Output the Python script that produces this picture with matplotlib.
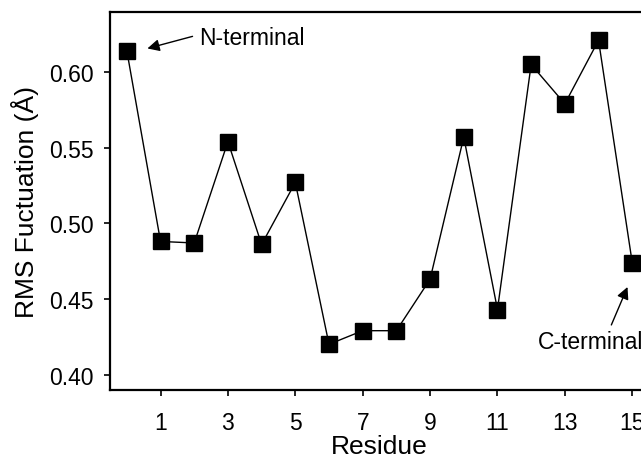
import matplotlib
matplotlib.use("Agg")
import matplotlib.pyplot as plt

plt.rcParams['font.family'] = ['Liberation Sans', 'DejaVu Sans']

# datos
residuo = list(range(16))
rmsf = [0.614, 0.488, 0.487, 0.554, 0.486, 0.527, 0.420, 0.429,
        0.429, 0.463, 0.557, 0.443, 0.605, 0.579, 0.621, 0.474]
xticks = [1, 3, 5, 7, 9, 11, 13, 15]
yticks = [0.40, 0.45, 0.50, 0.55, 0.60]

fig = plt.figure(figsize=(6.41, 4.60), dpi=100)
ax = fig.add_axes([0.1716, 0.1507, 0.841, 0.822])

ax.plot(residuo, rmsf, color='black', lw=1.0, marker='s', ms=12,
        mfc='black', mec='black')

ax.set_xlim(-0.5, 15.5)
ax.set_ylim(0.39, 0.64)
ax.set_xticks(xticks)
ax.set_yticks(yticks)
ax.set_yticklabels([f"{v:.2f}" for v in yticks])
ax.tick_params(axis='x', length=4.5, width=1.2, labelsize=16.5, pad=11)
ax.tick_params(axis='y', length=4, width=1.2, labelsize=16.5, pad=8)
for s in ax.spines.values():
    s.set_linewidth(1.6)

ax.set_xlabel('Residue', fontsize=19, labelpad=0)
ax.set_ylabel('RMS Fuctuation (Å)', fontsize=19, labelpad=7)

flecha = dict(arrowstyle='-|>', color='black', lw=1.0,
              mutation_scale=18, shrinkA=0, shrinkB=0)

# N-terminal
ax.text(2.16, 0.6226, 'N-terminal', fontsize=16.5, va='center', ha='left')
ax.annotate('', xy=(0.61, 0.6156), xytext=(1.95, 0.6236), arrowprops=flecha)

# C-terminal
ax.text(12.2, 0.4216, 'C-terminal', fontsize=16.5, va='center', ha='left')
ax.annotate('', xy=(14.86, 0.4579), xytext=(14.38, 0.4328), arrowprops=flecha)

fig.savefig('out.png', dpi=100)
